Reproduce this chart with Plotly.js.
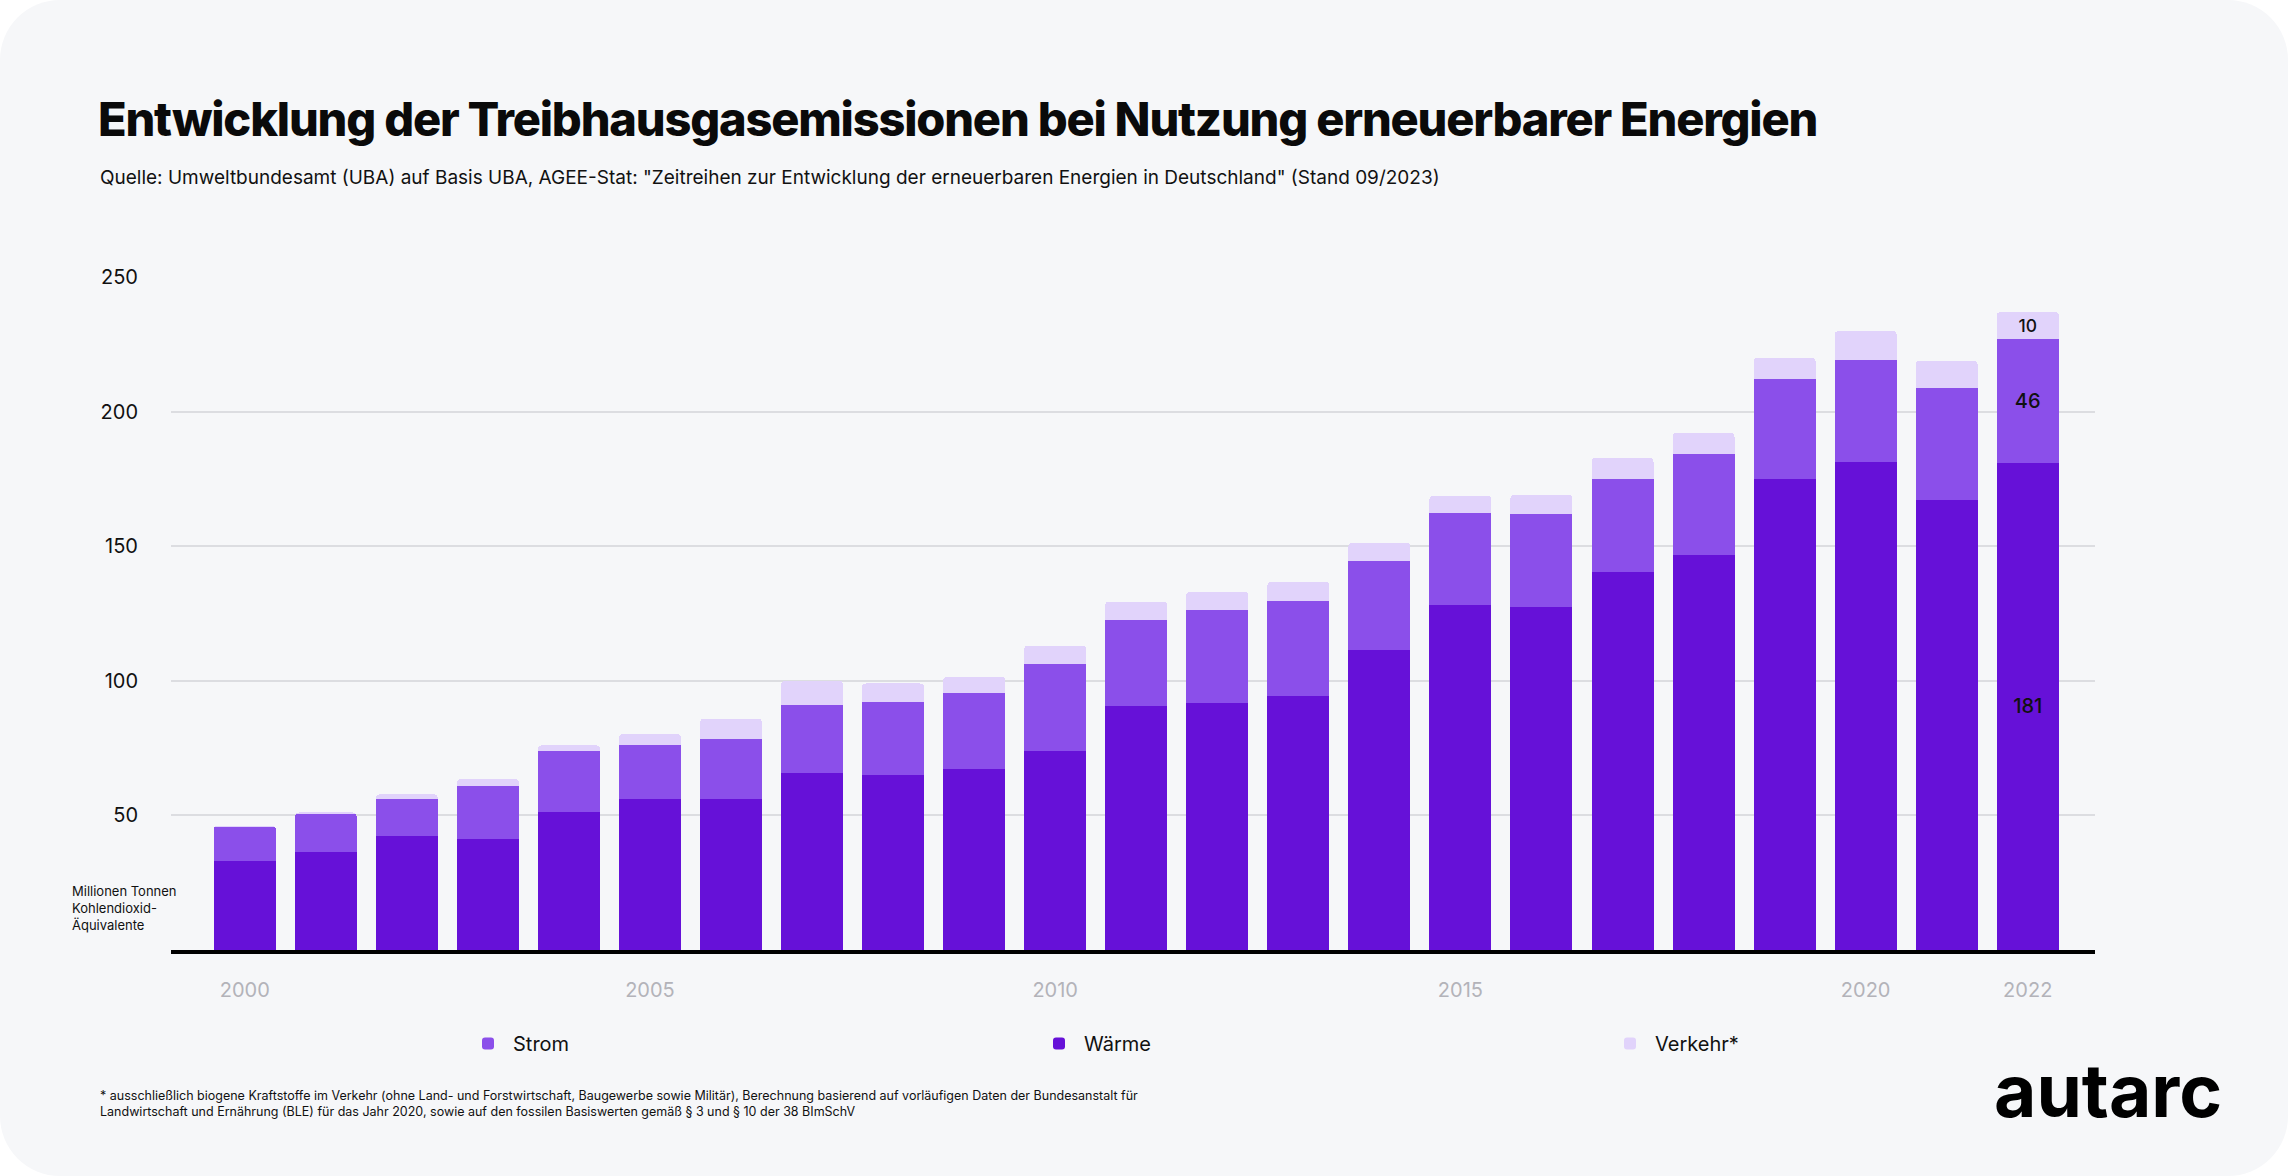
<!DOCTYPE html>
<html>
<head>
<meta charset="utf-8">
<script src="https://cdn.plot.ly/plotly-3.0.1.min.js"></script>
<style>
  html, body { margin: 0; padding: 0; background: #ffffff; }
  #card {
    width: 2288px; height: 1176px;
    background: #f6f7f9;
    border-radius: 60px;
    overflow: hidden;
  }
  /* headline is set tight in the original */
  #chart .gtitle { letter-spacing: -1.2px; }
</style>
</head>
<body>
<div id="card"><div id="chart"></div></div>
<script>
// ─── Data (Mio. t CO2-Äquivalente, vermiedene Emissionen) ───

const years = [2000, 2001, 2002, 2003, 2004, 2005, 2006, 2007, 2008, 2009, 2010,
  2011, 2012, 2013, 2014, 2015, 2016, 2017, 2018, 2019, 2020, 2021, 2022];

const waerme = [33, 36.3, 42.5, 41.3, 51.4, 56, 56, 65.9, 64.9, 67.4, 73.8,
  90.8, 91.9, 94.5, 111.6, 128.2, 127.6, 140.5, 146.9, 175, 181.2, 167.1, 181];

const strom = [12.8, 14.1, 13.5, 19.7, 22.7, 20.3, 22.5, 25.2, 27.4, 27.9, 32.6,
  31.9, 34.5, 35.2, 32.9, 34.2, 34.4, 34.5, 37.5, 37.1, 37.8, 41.8, 46];

const verkehr = [0.4, 0.7, 1.8, 2.5, 1.9, 4, 7.4, 8.9, 6.7, 6.2, 6.7,
  6.7, 6.7, 7.1, 6.8, 6.3, 7.1, 7.9, 7.7, 7.9, 10.9, 9.9, 10];

const xTicks = [2000, 2005, 2010, 2015, 2020, 2022];
const yTicks = [50, 100, 150, 200, 250];

const colors = { waerme: "#6611d8", strom: "#8b4fea", verkehr: "#e1d3fb" };
const FONT = "Inter, Roboto, 'Noto Sans', sans-serif";

// only the latest year carries value labels
const lastLabel = (arr) => arr.map((v, i) => (i === arr.length - 1 ? String(Math.round(v)) : ""));

const barTrace = (name, y, color, rank) => ({
  type: "bar",
  x: years,
  y: y,
  name: name,
  legendrank: rank,
  marker: { color: color, line: { width: 0 } },
  text: lastLabel(y),
  textposition: "inside",
  insidetextanchor: "middle",
  textangle: 0,
  constraintext: "none",
  textfont: { family: FONT, size: 20, weight: 500, color: "#111111" },
  hoverinfo: "skip",
});

const traces = [
  barTrace("Wärme", waerme, colors.waerme, 2),
  barTrace("Strom", strom, colors.strom, 1),
  barTrace("Verkehr*", verkehr, colors.verkehr, 3),
];

const layout = {
  width: 2288,
  height: 1176,
  paper_bgcolor: "rgba(0,0,0,0)",
  plot_bgcolor: "rgba(0,0,0,0)",
  font: { family: FONT, size: 20, color: "#111111" },
  margin: { l: 171, r: 193, t: 277, b: 226, pad: 0 },
  barmode: "stack",
  bargap: 0.235,
  barcornerradius: 4,
  hovermode: false,
  title: {
    text: "Entwicklung der Treibhausgasemissionen bei Nutzung erneuerbarer Energien",
    font: { family: FONT, size: 47, weight: 800, color: "#0a0a0a" },
    xref: "container",
    yref: "container",
    x: 98 / 2288,
    xanchor: "left",
    y: 1 - 103 / 1176,
    yanchor: "top",
    pad: { t: 0, b: 0, l: 0, r: 0 },
  },
  xaxis: {
    type: "linear",
    range: [1999.09, 2022.83],
    tickvals: xTicks,
    ticktext: xTicks.map(String),
    tickfont: { family: FONT, size: 20, color: "#b3b3b9" },
    ticks: "",
    ticklabelstandoff: 19,
    showgrid: false,
    zeroline: false,
    showline: true,
    linecolor: "#000000",
    linewidth: 4,
    fixedrange: true,
  },
  yaxis: {
    range: [0, 250],
    tickvals: yTicks,
    ticktext: yTicks.map(String),
    tickfont: { family: FONT, size: 20, color: "#111111" },
    ticks: "",
    ticklabelstandoff: 32,
    showgrid: true,
    gridcolor: "#dcdde1",
    gridwidth: 2,
    zeroline: false,
    showline: false,
    fixedrange: true,
  },
  showlegend: true,
  legend: {
    orientation: "h",
    traceorder: "normal",
    x: (463 - 171) / 1924,
    xanchor: "left",
    y: (950 - 1024) / 673,
    yanchor: "top",
    itemwidth: 40,
    entrywidth: 516,
    entrywidthmode: "pixels",
    font: { family: FONT, size: 20, color: "#111111" },
    bgcolor: "rgba(0,0,0,0)",
  },
  annotations: [
    {
      text: "Quelle: Umweltbundesamt (UBA) auf Basis UBA, AGEE-Stat: \"Zeitreihen zur Entwicklung der erneuerbaren Energien in Deutschland\" (Stand 09/2023)",
      xref: "paper", yref: "paper",
      x: (98 - 171) / 1924, y: (950 - 177) / 673,
      xanchor: "left", yanchor: "middle",
      showarrow: false,
      font: { family: FONT, size: 19, color: "#111111" },
    },
    {
      text: "Millionen Tonnen<br>Kohlendioxid-<br>Äquivalente",
      xref: "paper", yref: "paper",
      x: (70 - 171) / 1924, y: (950 - 908) / 673,
      xanchor: "left", yanchor: "middle", align: "left",
      showarrow: false,
      font: { family: FONT, size: 13, color: "#111111" },
    },
    {
      text: "* ausschließlich biogene Kraftstoffe im Verkehr (ohne Land- und Forstwirtschaft, Baugewerbe sowie Militär), Berechnung basierend auf vorläufigen Daten der Bundesanstalt für<br>Landwirtschaft und Ernährung (BLE) für das Jahr 2020, sowie auf den fossilen Basiswerten gemäß § 3 und § 10 der 38 BImSchV",
      xref: "paper", yref: "paper",
      x: (98 - 171) / 1924, y: (950 - 1103) / 673,
      xanchor: "left", yanchor: "middle", align: "left",
      showarrow: false,
      font: { family: FONT, size: 12.5, color: "#111111" },
    },
    {
      text: "autarc",
      xref: "paper", yref: "paper",
      x: (2224 - 171) / 1924, y: (950 - 1090) / 673,
      xanchor: "right", yanchor: "middle",
      showarrow: false,
      font: { family: FONT, size: 73, weight: 700, color: "#000000" },
    },
  ],
};

Plotly.newPlot("chart", traces, layout, { displayModeBar: false, staticPlot: true });
</script>
</body>
</html>
